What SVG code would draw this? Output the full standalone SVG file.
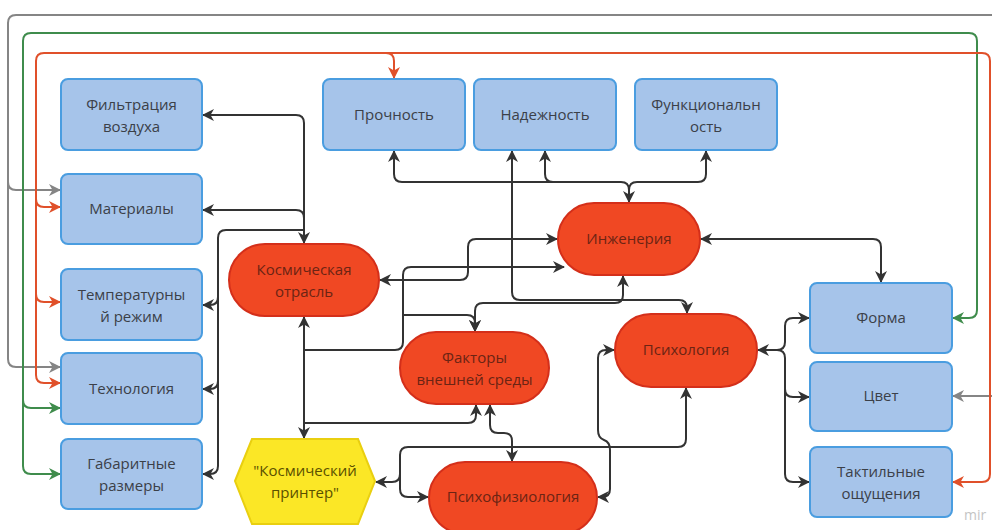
<svg xmlns="http://www.w3.org/2000/svg" width="992" height="530" viewBox="0 0 992 530">
<defs>
<style>
.box{fill:#a6c4ea;stroke:#4a9de0;stroke-width:2}
.red{fill:#f04823;stroke:#d42f1a;stroke-width:2}
.yel{fill:#fbe726;stroke:#e9cf10;stroke-width:2}
text{font-family:"Open Sans","Noto Sans","DejaVu Sans",sans-serif;font-size:15px;text-anchor:middle}
.tb{fill:#3b4048}
.tr{fill:#6b2414}
.ty{fill:#5a5000}
.c{fill:none;stroke-width:2;stroke-linejoin:round}
.dk{stroke:#333333;marker-end:url(#ad)}
.dk2{stroke:#333333;marker-start:url(#ad);marker-end:url(#ad)}
.gy{stroke:#858585;marker-end:url(#ag)}
.gn{stroke:#3f8c4c;marker-end:url(#an)}
.gn2{stroke:#3f8c4c;marker-start:url(#an);marker-end:url(#an)}
.rd{stroke:#e0502a;marker-end:url(#ar)}
.rd2{stroke:#e0502a;marker-start:url(#ar);marker-end:url(#ar)}
</style>
<marker id="ad" markerUnits="userSpaceOnUse" markerWidth="12" markerHeight="12" viewBox="0 0 12 12" refX="11" refY="6" orient="auto-start-reverse"><path d="M0,0 L12,6 L0,12 L3.5,6 z" fill="#333333"/></marker>
<marker id="ag" markerUnits="userSpaceOnUse" markerWidth="12" markerHeight="12" viewBox="0 0 12 12" refX="11" refY="6" orient="auto-start-reverse"><path d="M0,0 L12,6 L0,12 L3.5,6 z" fill="#858585"/></marker>
<marker id="an" markerUnits="userSpaceOnUse" markerWidth="12" markerHeight="12" viewBox="0 0 12 12" refX="11" refY="6" orient="auto-start-reverse"><path d="M0,0 L12,6 L0,12 L3.5,6 z" fill="#3f8c4c"/></marker>
<marker id="ar" markerUnits="userSpaceOnUse" markerWidth="12" markerHeight="12" viewBox="0 0 12 12" refX="11" refY="6" orient="auto-start-reverse"><path d="M0,0 L12,6 L0,12 L3.5,6 z" fill="#e0502a"/></marker>
</defs>
<rect width="992" height="530" fill="#ffffff"/>

<g id="connectors">
<!-- gray -->
<path class="c gy" d="M995 15 H16 Q8 15 8 23 V182 Q8 190 16 190 H60"/>
<path class="c gy" d="M8 182 V359 Q8 367 16 367 H60"/>
<path class="c gy" d="M995 396 H953"/>
<!-- green -->
<path class="c gn2" d="M953 318 H969 Q977 318 977 310 V41 Q977 33 969 33 H31 Q23 33 23 41 V466 Q23 474 31 474 H60"/>
<path class="c gn" d="M23 400 Q23 408 31 408 H60"/>
<!-- red -->
<path class="c rd2" d="M953 482 H982 Q990 482 990 474 V61 Q990 53 982 53 H44 Q36 53 36 61 V375 Q36 383 44 383 H60"/>
<path class="c rd" d="M36 199 Q36 207 44 207 H60"/>
<path class="c rd" d="M36 294 Q36 302 44 302 H60"/>
<path class="c rd" d="M386 53 Q394 53 394 61 V78"/>
<!-- dark -->
<path class="c dk2" d="M304 243 V123 Q304 115 296 115 H203"/>
<path class="c dk" d="M304 218 Q304 210 296 210 H203"/>
<path class="c dk" d="M304 230 H226 Q218 230 218 238 V466 Q218 474 210 474 H203"/>
<path class="c dk" d="M218 297 Q218 305 210 305 H203"/>
<path class="c dk" d="M218 381 Q218 389 210 389 H203"/>
<path class="c dk2" d="M629 202 V190 Q629 182 621 182 H402 Q394 182 394 174 V151"/>
<path class="c dk" d="M629 190 Q629 182 637 182 H698 Q706 182 706 174 V151"/>
<path class="c dk" d="M553 182 Q545 182 545 174 V151"/>
<path class="c dk2" d="M512 151 V292 Q512 300 520 300 H679 Q687 300 687 308 V313"/>
<path class="c dk2" d="M557 239 H476 Q468 239 468 247 V272 Q468 280 460 280 H380"/>
<path class="c dk2" d="M304 317 V438"/>
<path class="c dk" d="M304 350 H395 Q403 350 403 342 V275 Q403 267 411 267 H564"/>
<path class="c dk" d="M403 315 H467 Q475 315 475 323 V331"/>
<path class="c dk2" d="M623 276 V295 Q623 303 615 303 H483 Q475 303 475 311 V331"/>
<path class="c dk" d="M304 423 H468 Q476 423 476 415 V405"/>
<path class="c dk2" d="M490 405 V425 Q490 433 498 433 H504 Q512 433 512 441 V461"/>
<path class="c dk2" d="M686 388 V439 Q686 447 678 447 H408 Q400 447 400 455 V474 Q400 482 392 482 H376"/>
<path class="c dk" d="M400 474 V489 Q400 497 408 497 H428"/>
<path class="c dk2" d="M614 350 H606 Q598 350 598 358 V430 Q598 438 604 440 Q610 442 610 450 V489 Q610 497 602 497 H598"/>
<path class="c dk2" d="M758 350 H777 Q785 350 785 342 V326 Q785 318 793 318 H809"/>
<path class="c dk" d="M777 350 Q785 350 785 358 V389 Q785 397 793 397 H809"/>
<path class="c dk" d="M785 389 V474 Q785 482 793 482 H809"/>
<path class="c dk2" d="M701 239 H873 Q881 239 881 247 V282"/>
</g>

<g id="filtration"><rect class="box" x="61" y="79" width="141" height="71" rx="7"/><text class="tb" x="131.5" y="110">Фильтрация</text><text class="tb" x="131.5" y="132">воздуха</text></g>
<g id="materials"><rect class="box" x="61" y="174" width="141" height="70" rx="7"/><text class="tb" x="131.5" y="214">Материалы</text></g>
<g id="temperature"><rect class="box" x="61" y="269" width="141" height="71" rx="7"/><text class="tb" x="131.5" y="300">Температурны</text><text class="tb" x="131.5" y="322">й режим</text></g>
<g id="technology"><rect class="box" x="61" y="353" width="141" height="71" rx="7"/><text class="tb" x="131.5" y="394">Технология</text></g>
<g id="dimensions"><rect class="box" x="61" y="439" width="141" height="70" rx="7"/><text class="tb" x="131.5" y="469">Габаритные</text><text class="tb" x="131.5" y="491">размеры</text></g>

<g id="strength"><rect class="box" x="323" y="79" width="142" height="71" rx="7"/><text class="tb" x="394" y="120">Прочность</text></g>
<g id="reliability"><rect class="box" x="474" y="79" width="142" height="71" rx="7"/><text class="tb" x="545" y="120">Надежность</text></g>
<g id="functionality"><rect class="box" x="635" y="79" width="142" height="71" rx="7"/><text class="tb" x="706" y="110">Функциональн</text><text class="tb" x="706" y="132">ость</text></g>

<g id="form"><rect class="box" x="810" y="283" width="142" height="70" rx="7"/><text class="tb" x="881" y="323">Форма</text></g>
<g id="color"><rect class="box" x="810" y="362" width="142" height="69" rx="7"/><text class="tb" x="881" y="401">Цвет</text></g>
<g id="tactile"><rect class="box" x="810" y="447" width="142" height="70" rx="7"/><text class="tb" x="881" y="477">Тактильные</text><text class="tb" x="881" y="499">ощущения</text></g>

<g id="space-industry"><rect class="red" x="229" y="244" width="150" height="72" rx="36"/><text class="tr" x="304" y="275">Космическая</text><text class="tr" x="304" y="297">отрасль</text></g>
<g id="engineering"><rect class="red" x="558" y="203" width="142" height="72" rx="36"/><text class="tr" x="629" y="244">Инженерия</text></g>
<g id="environment"><rect class="red" x="400" y="332" width="149" height="72" rx="36"/><text class="tr" x="474.5" y="363">Факторы</text><text class="tr" x="474.5" y="385">внешней среды</text></g>
<g id="psychology"><rect class="red" x="615" y="314" width="142" height="73" rx="36"/><text class="tr" x="686" y="355">Психология</text></g>
<g id="psychophysiology"><rect class="red" x="429" y="462" width="168" height="72" rx="36"/><text class="tr" x="513" y="502">Психофизиология</text></g>
<g id="printer"><polygon class="yel" points="235,481 252,439 358,439 375,481 358,524 252,524"/><text class="ty" x="305" y="476">"Космический</text><text class="ty" x="305" y="498">принтер"</text></g>

<text x="964" y="520" style="font-size:14px;fill:#c4c4c4;text-anchor:start">mir</text>
</svg>
